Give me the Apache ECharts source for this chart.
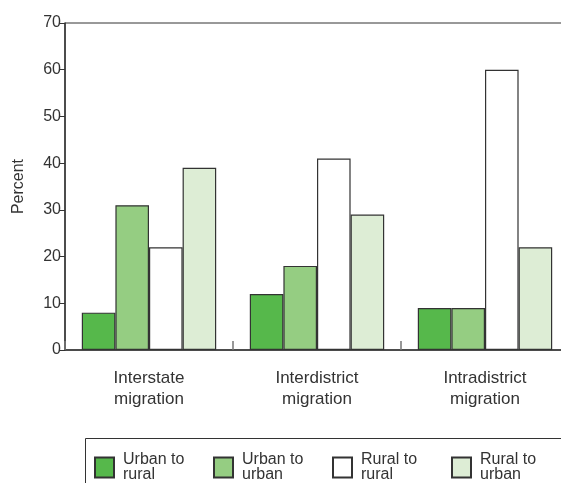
<!DOCTYPE html>
<html><head><meta charset="utf-8">
<script src="https://cdn.jsdelivr.net/npm/echarts@6/dist/echarts.min.js"></script>
<style>html,body{margin:0;padding:0;background:#fff}#c{width:561px;height:483px}</style>
</head><body><div id="c"></div>
<script>
const categories = ['Interstate\nmigration', 'Interdistrict\nmigration', 'Intradistrict\nmigration'];
const seriesNames = ['Urban to\nrural', 'Urban to\nurban', 'Rural to\nrural', 'Rural to\nurban'];
const urbanToRural = [8, 12, 9];
const urbanToUrban = [31, 18, 9];
const ruralToRural = [22, 41, 60];
const ruralToUrban = [39, 29, 22];
const yTicks = [0, 10, 20, 30, 40, 50, 60, 70];

const colors = ['#56b84b', '#95cd82', '#ffffff', '#ddedd5'];
const values = [urbanToRural, urbanToUrban, ruralToRural, ruralToUrban];
const font = 'Liberation Sans, Arial, sans-serif';

const chart = echarts.init(document.getElementById('c'), null, {renderer: 'canvas'});
chart.setOption({
  animation: false,
  textStyle: {fontFamily: font},
  grid: {left: 65, top: 23, width: 504, height: 327, outerBoundsMode: 'none', containLabel: false,
         show: true, borderColor: '#333', borderWidth: 1, backgroundColor: 'transparent'},
  xAxis: {
    type: 'category', data: categories,
    axisLine: {lineStyle: {color: '#333', width: 1.5}},
    axisTick: {show: true, interval: 0, inside: true, length: 9, lineStyle: {color: '#777', width: 1.5}},
    axisLabel: {color: '#333', fontSize: 17, lineHeight: 21, margin: 18, fontFamily: font}
  },
  yAxis: {
    type: 'value', min: yTicks[0], max: yTicks[yTicks.length - 1], interval: 10,
    name: 'Percent', nameLocation: 'middle', nameGap: 38,
    nameTextStyle: {color: '#333', fontSize: 16, fontFamily: font},
    splitLine: {show: false},
    axisLine: {show: true, lineStyle: {color: '#333', width: 1.5}},
    axisTick: {show: true, length: 5, lineStyle: {color: '#333'}},
    axisLabel: {color: '#333', fontSize: 16, margin: 4, fontFamily: font}
  },
  legend: {
    left: 94, top: 452, width: 467, padding: 0, itemWidth: 19, itemHeight: 20, itemGap: 16,
    icon: 'rect',
    textStyle: {color: '#333', fontSize: 16, lineHeight: 15, width: 74, padding: [0, 0, 0, 4], fontFamily: font},
    data: seriesNames
  },
  graphic: [{
    type: 'rect', left: 83, top: 436, shape: {width: 520, height: 80},
    style: {fill: 'none', stroke: '#333', lineWidth: 1}, z: -1
  }],
  series: seriesNames.map((n, i) => ({
    name: n, type: 'bar', data: values[i],
    barGap: '0%', barCategoryGap: '20%',
    itemStyle: {color: colors[i], borderColor: '#333', borderWidth: 1.2}
  }))
});
</script></body></html>
